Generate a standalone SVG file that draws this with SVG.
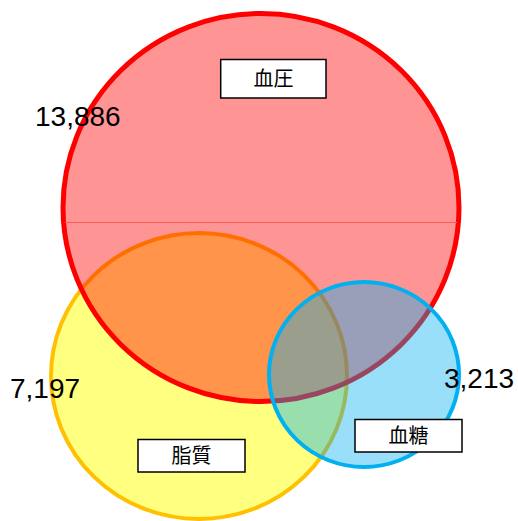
<svg xmlns="http://www.w3.org/2000/svg" width="518" height="521" viewBox="0 0 518 521">
<style>
.num{font-family:"Liberation Sans","Noto Sans",sans-serif;font-size:28px;fill:#000}
.lbl{font-family:"Noto Sans CJK JP","Noto Sans CJK SC",sans-serif;font-size:20px;fill:#000;text-anchor:middle}
.box{fill:#fff;stroke:#000;stroke-width:1.5}
</style>
<rect width="518" height="521" fill="#fff"/>
<g id="lipid">
<ellipse cx="199" cy="376" rx="148" ry="143" fill="#FFFF80" stroke="#FFC000" stroke-width="4"/>
</g>
<g id="bp">
<ellipse cx="261" cy="207.5" rx="198" ry="194" fill="#FF0000" fill-opacity="0.42" stroke="#FF0000" stroke-width="5"/>
<line x1="65" y1="222.5" x2="457" y2="222.5" stroke="#FF5A5A" stroke-width="1"/>
</g>
<g id="glucose">
<ellipse cx="364" cy="374.5" rx="95" ry="92.5" fill="#00B0F0" fill-opacity="0.4" stroke="#00B0F0" stroke-width="4"/>
</g>
<g id="labels">
<rect class="box" x="220.7" y="59.5" width="105.3" height="38.5"/>
<text class="lbl" x="273.5" y="86">血圧</text>
<rect class="box" x="138" y="439.5" width="107" height="32.5"/>
<text class="lbl" x="191.5" y="463">脂質</text>
<rect class="box" x="355" y="419.5" width="107" height="32.5"/>
<text class="lbl" x="408.5" y="443">血糖</text>
<text class="num" x="35" y="126">13,886</text>
<text class="num" x="10" y="398">7,197</text>
<text class="num" x="444" y="388">3,213</text>
</g>
<g id="connectors"/>
</svg>
